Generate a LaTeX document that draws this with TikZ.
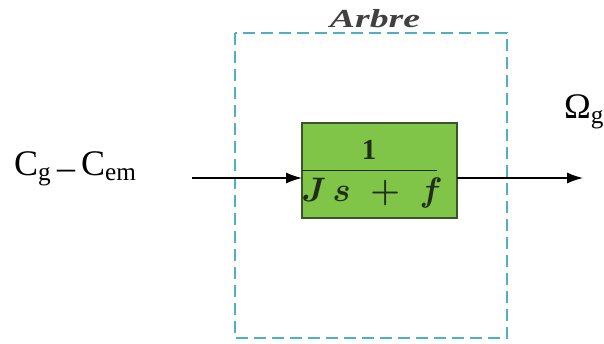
\RequirePackage{fix-cm}
\documentclass[tikz,border=0pt]{standalone}
\usepackage{fontspec}
\setmainfont{Liberation Serif}
\usepackage{tikz}
\usetikzlibrary{arrows.meta}

\definecolor{blockgreen}{RGB}{128,196,72}
\definecolor{blockedge}{RGB}{58,84,46}
\definecolor{shaftcyan}{RGB}{78,176,196}

\begin{document}
\begin{tikzpicture}[
        x=1pt, y=-1pt,
        every node/.style={inner sep=0pt, outer sep=0pt},
        tfblock/.style={
            draw=blockedge,
            line width=1.4pt,
            fill=blockgreen,
            minimum width=155pt,
            minimum height=95pt
        },
        shaft/.style={
            draw=shaftcyan,
            line width=1.3pt,
            dash pattern=on 12pt off 6pt
        },
        signal/.style={-{Latex[length=16pt,width=11pt]}, line width=1.3pt},
        biglabel/.style={font=\fontsize{36}{40}\selectfont},
        tftext/.style={text=blockedge!55!black}
    ]
    \useasboundingbox (0,0) rectangle (604,343);

    % =========================
    % Arbre (shaft) block
    % =========================
    \draw[shaft] (235,33) rectangle (507,338);
    \node[font=\fontsize{26}{30}\selectfont\itshape\bfseries, text=black!75,
          xscale=1.45] (arbre) at (375,19) {Arbre};

    \node[tfblock] (tf) at (379.5,170.5) {};

    % transfer function 1/(Js+f)
    \draw[line width=1.8pt, blockedge!55!black] (tf.west) -- ++(135,0);
    \node[tftext, font=\fontsize{29}{32}\selectfont\bfseries] (num) at (369,150) {1};
    \node[tftext, font=\fontsize{34}{37}\selectfont\boldmath, anchor=base] (den) at (372,201)
        {$J\mkern3mu s\mkern5mu+\mkern5mu f$};

    % =========================
    % Input / output
    % =========================
    \node[biglabel, anchor=base west] (inp) at (14,175)
        {C\textsubscript{g}\,\raisebox{-4pt}{--}\,C\textsubscript{em}};
    \node[biglabel, anchor=base west] (out) at (564,118) {Ω\textsubscript{g}};

    \coordinate (src) at (192,178);
    \coordinate (dst) at (583,178);

    \draw[signal] (src) -- (tf.west |- src);
    \draw[signal] (tf.east |- dst) -- (dst);

\end{tikzpicture}
\end{document}
